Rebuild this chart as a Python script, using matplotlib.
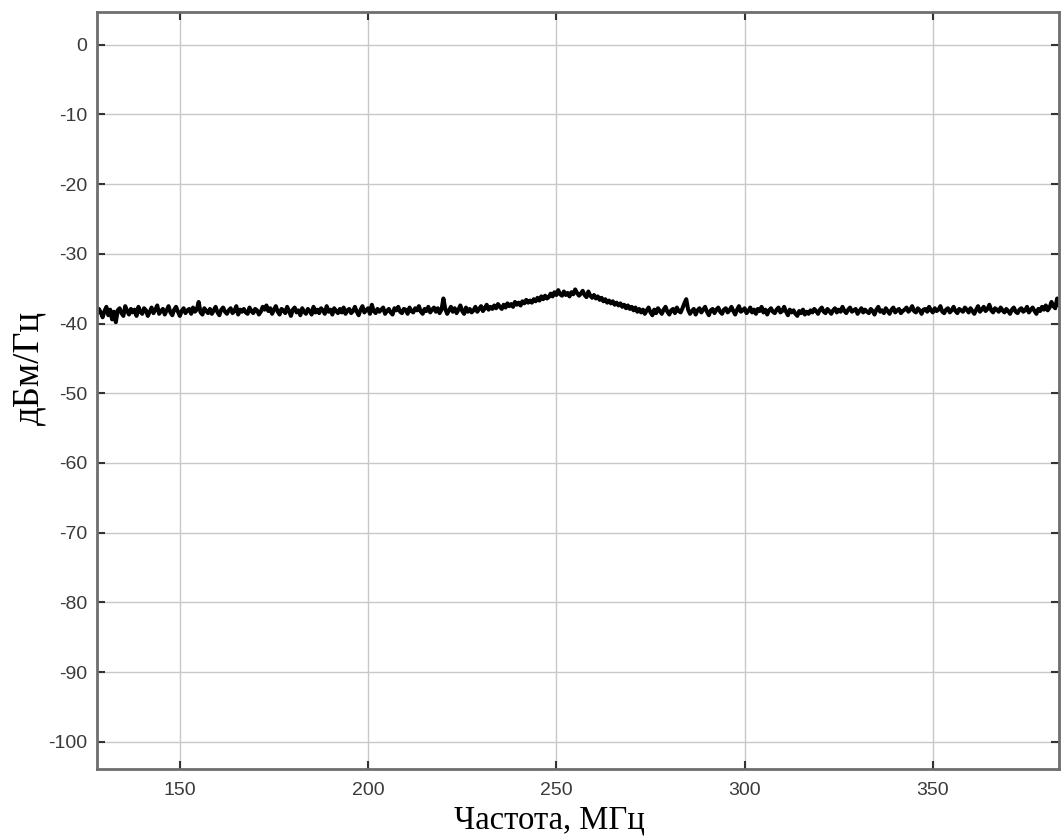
import numpy as np
import matplotlib
matplotlib.use("Agg")
import matplotlib.pyplot as plt

plt.rcParams["axes.unicode_minus"] = False

f_start = 128.0
f_step = 0.5
psd = [
-38.6,-37.9,-38.4,-39.1,-38.2,-37.6,-38.8,-38.0,-39.4,-38.3,
-39.8,-38.1,-37.8,-38.5,-38.9,-37.5,-38.2,-38.7,-37.9,-38.4,
-38.0,-38.9,-37.6,-38.3,-38.6,-37.8,-38.1,-38.9,-38.3,-37.7,
-38.5,-38.0,-37.4,-38.6,-38.2,-37.9,-38.7,-38.1,-37.5,-38.4,
-38.8,-38.0,-37.6,-38.3,-38.9,-38.2,-37.8,-38.5,-38.1,-37.9,
-38.6,-37.7,-38.3,-38.0,-36.9,-38.4,-38.7,-37.8,-38.2,-38.5,
-37.9,-38.6,-38.1,-37.6,-38.4,-38.8,-38.0,-37.7,-38.3,-38.6,
-38.1,-37.8,-38.5,-38.2,-37.5,-38.7,-38.0,-38.3,-37.9,-38.4,
-38.6,-37.7,-38.2,-38.5,-37.9,-38.1,-38.7,-38.3,-37.6,-38.0,
-37.4,-38.2,-37.8,-38.6,-38.0,-37.5,-38.3,-38.7,-37.9,-38.1,
-38.5,-37.6,-38.2,-38.9,-38.0,-37.7,-38.4,-38.1,-38.8,-37.8,
-38.3,-38.6,-37.9,-38.2,-38.7,-37.6,-38.4,-38.0,-38.5,-37.8,
-38.1,-38.6,-37.5,-38.3,-38.0,-38.7,-37.8,-38.2,-38.5,-37.9,
-38.4,-37.7,-38.6,-38.1,-37.9,-38.5,-38.2,-37.6,-38.3,-38.8,
-38.0,-37.5,-38.4,-38.1,-37.8,-38.6,-37.3,-38.2,-38.5,-37.9,
-38.3,-38.0,-37.7,-38.6,-38.2,-37.9,-38.4,-38.7,-37.8,-38.1,
-37.6,-38.3,-38.5,-37.9,-38.0,-38.6,-37.7,-38.2,-38.4,-37.8,
-38.1,-37.5,-38.3,-38.6,-37.9,-38.2,-37.6,-38.4,-38.0,-37.7,
-38.3,-37.8,-38.5,-38.0,-36.4,-37.9,-38.6,-38.1,-37.6,-38.3,
-37.8,-38.5,-38.0,-37.4,-38.2,-38.6,-37.7,-38.3,-37.9,-38.4,
-38.1,-37.6,-38.3,-37.9,-37.5,-38.2,-37.8,-37.3,-38.0,-37.6,
-37.9,-37.4,-37.8,-37.2,-37.6,-37.9,-37.3,-37.7,-37.1,-37.5,
-37.2,-37.6,-36.9,-37.3,-37.0,-37.4,-36.8,-37.1,-36.6,-37.0,
-36.7,-37.0,-36.5,-36.8,-36.3,-36.7,-36.1,-36.5,-36.0,-36.4,
-36.2,-35.7,-36.1,-35.5,-35.9,-35.2,-35.8,-36.0,-35.4,-35.9,
-35.6,-36.1,-35.5,-35.8,-35.1,-35.6,-36.0,-35.7,-35.3,-35.9,
-36.2,-35.4,-36.0,-36.3,-35.9,-36.4,-36.1,-36.6,-36.3,-36.8,
-36.5,-37.0,-36.7,-37.1,-36.8,-37.3,-37.0,-37.4,-37.1,-37.6,
-37.3,-37.8,-37.4,-37.9,-37.6,-38.1,-37.7,-38.3,-37.9,-38.4,
-38.0,-38.6,-38.1,-37.7,-38.4,-38.8,-38.0,-38.5,-37.8,-38.2,
-38.6,-38.0,-37.6,-38.3,-38.7,-38.1,-37.9,-38.5,-37.7,-38.2,
-38.4,-37.8,-37.1,-36.5,-38.0,-38.6,-38.2,-37.9,-38.7,-38.1,
-37.8,-38.4,-38.0,-37.6,-38.3,-38.8,-38.1,-37.9,-38.5,-38.0,
-37.7,-38.3,-38.6,-38.0,-37.8,-38.4,-38.1,-37.6,-38.2,-38.7,
-38.0,-37.5,-38.3,-38.1,-37.8,-38.5,-38.2,-37.7,-38.4,-38.0,
-38.6,-37.9,-38.2,-37.6,-38.4,-38.0,-38.7,-38.1,-37.8,-38.3,
-38.5,-38.0,-37.7,-38.4,-38.2,-37.6,-38.3,-38.8,-38.0,-38.4,
-38.1,-38.6,-38.9,-38.2,-38.5,-38.0,-38.7,-38.3,-38.6,-38.1,
-38.4,-37.9,-38.2,-38.6,-38.0,-37.7,-38.3,-38.5,-37.9,-38.2,
-38.6,-38.1,-37.8,-38.4,-38.0,-38.3,-37.6,-38.2,-38.5,-38.0,
-37.7,-38.3,-38.1,-37.9,-38.6,-38.2,-37.8,-38.4,-38.0,-38.3,
-38.5,-37.9,-38.2,-38.7,-38.0,-37.6,-38.3,-38.1,-38.5,-37.8,
-38.2,-38.6,-38.0,-37.7,-38.4,-38.1,-37.9,-38.5,-38.2,-38.0,
-37.7,-38.3,-38.0,-37.5,-38.2,-38.4,-37.8,-38.1,-38.6,-38.0,
-37.9,-38.3,-37.6,-38.1,-38.4,-37.8,-38.2,-38.0,-37.5,-38.3,
-38.5,-38.0,-37.8,-38.4,-38.1,-37.6,-38.2,-38.5,-37.9,-38.1,
-38.3,-37.7,-38.0,-38.4,-37.8,-38.2,-38.6,-38.0,-37.5,-38.3,
-38.0,-37.6,-38.2,-37.9,-37.3,-38.1,-38.4,-37.8,-38.0,-38.3,
-37.7,-38.1,-38.4,-37.9,-38.2,-38.6,-38.0,-37.7,-38.3,-38.5,
-38.0,-37.8,-38.3,-38.1,-37.6,-38.4,-38.0,-37.7,-38.2,-38.6,
-37.9,-38.2,-37.6,-38.0,-37.4,-38.1,-37.7,-36.9,-37.5,-37.8,
-36.4,-37.4,-36.8,
]
freq = f_start + f_step * np.arange(len(psd))

x_ticks = [150, 200, 250, 300, 350]
y_ticks = [0, -10, -20, -30, -40, -50, -60, -70, -80, -90, -100]
x_label = "Частота, МГц"
y_label = "дБм/Гц"

W, H = 1061, 840
ax_l, ax_r, ax_t, ax_b = 97, 1059, 12, 769
fig = plt.figure(figsize=(W/100, H/100), dpi=100)
ax = fig.add_axes([ax_l/W, 1-ax_b/H, (ax_r-ax_l)/W, (ax_b-ax_t)/H])
ax.plot(freq, psd, color="black", lw=2.9, solid_joinstyle="round")
ax.set_xlim(128, 383.5)
ax.set_ylim(-103.9, 4.7)
ax.set_xticks(x_ticks)
ax.set_yticks(y_ticks)
ax.grid(True, color="#c8c8c8", lw=1.0)
ax.set_axisbelow(True)
for s in ax.spines.values():
    s.set_color("#6e6e6e")
    s.set_linewidth(2.0)
ax.tick_params(direction="in", length=6, width=1.5, color="#333333",
               top=True, right=True, labelsize=14, labelcolor="#3a3a3a")
ax.tick_params(axis="x", pad=9.5)
ax.tick_params(axis="y", pad=7)
for lab in ax.get_xticklabels() + ax.get_yticklabels():
    lab.set_fontfamily("Liberation Sans")
ax.set_xlabel(x_label, fontfamily="Liberation Serif", fontsize=23.5)
ax.set_ylabel(y_label, fontfamily="Liberation Serif", fontsize=26.5)
aw, ah = ax_r - ax_l, ax_b - ax_t
ax.xaxis.set_label_coords((549 - ax_l)/aw, -(805 - ax_b)/ah)
ax.yaxis.set_label_coords(-(ax_l - 46)/aw, (ax_b - 368)/ah)
fig.savefig("out.png", dpi=100)
